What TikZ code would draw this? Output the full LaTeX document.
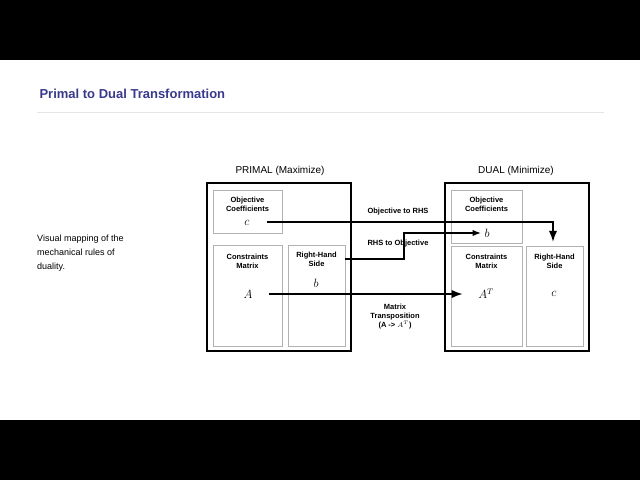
\documentclass[tikz,border=0pt]{standalone}
\usepackage{fontspec}
\setmainfont{Liberation Sans}
\usetikzlibrary{arrows.meta}
\definecolor{titleblue}{RGB}{58,58,140}
\tikzset{>=Latex}
\begin{document}
\begin{tikzpicture}[x=1pt,y=-1pt,
  outer/.style={draw=black, line width=1.6pt},
  inner/.style={draw=black!30, line width=0.6pt},
  lbl/.style={font=\bfseries\fontsize{7.5}{9}\selectfont, align=center, inner sep=1pt},
  sym/.style={font=\fontsize{12}{12}\selectfont},
  flow/.style={->, line width=1.8pt}]
  \useasboundingbox (0,0) rectangle (640,480);
  \fill[black] (0,0) rectangle (640,60);
  \fill[black] (0,420) rectangle (640,480);
  \node[anchor=west, text=titleblue, font=\bfseries\fontsize{13}{15}\selectfont] (title) at (36,94) {Primal to Dual Transformation};
  \draw[black!10] (37,112) -- (604,112);
  \node[anchor=north west, align=left, font=\fontsize{9}{14}\selectfont, inner sep=0pt] (note) at (37,235) {Visual mapping of the\\mechanical rules of\\duality.};
  % primal
  \node[font=\fontsize{10}{12}\selectfont] (phead) at (280,171) {PRIMAL (Maximize)};
  \draw[outer] (207,183) rectangle (351,351);
  \draw[inner] (213,190) rectangle (282,233);
  \draw[inner] (213,245) rectangle (282,346);
  \draw[inner] (288,245) rectangle (345,346);
  \node[lbl] (pobj) at (247.5,204) {Objective\\Coefficients};
  \node[sym] (pc) at (247,223) {$c$};
  \node[lbl] (pcon) at (247.5,261) {Constraints\\Matrix};
  \node[sym] (pA) at (248,294) {$A$};
  \node[lbl] (prhs) at (316.5,259) {Right-Hand\\Side};
  \node[sym] (pb) at (316,283) {$b$};
  % dual
  \node[font=\fontsize{10}{12}\selectfont] (dhead) at (516,171) {DUAL (Minimize)};
  \draw[outer] (445,183) rectangle (589,351);
  \draw[inner] (451,190) rectangle (522,243);
  \draw[inner] (451,246) rectangle (522,346);
  \draw[inner] (526,246) rectangle (583,346);
  \node[lbl] (dobj) at (486.5,204) {Objective\\Coefficients};
  \node[sym] (db) at (487,233) {$b$};
  \node[lbl] (dcon) at (486.5,261) {Constraints\\Matrix};
  \node[sym] (dAT) at (486,294) {$A^T$};
  \node[lbl] (drhs) at (554.5,261) {Right-Hand\\Side};
  \node[sym] (dc) at (554,294) {$c$};
  % mappings
  \coordinate (k1) at (553,222);
  \coordinate (k2) at (404,259);
  \coordinate (k3) at (404,233);
  \draw[flow] (pc.east) ++(14,-1) -- (k1) -- ++(0,20);
  \draw[flow, line width=1.2pt] (345,259) -- (k2) -- (k3) -- (db.west);
  \draw[flow] (pA.east) ++(13,0) -- ([xshift=-12pt]dAT.west);
  \node[lbl] (l1) at (398,212) {Objective to RHS};
  \node[lbl] (l2) at (398,244) {RHS to Objective};
  \node[lbl] (l3) at (395,317) {Matrix\\Transposition\\(A -> $A^T$)};
\end{tikzpicture}
\end{document}
